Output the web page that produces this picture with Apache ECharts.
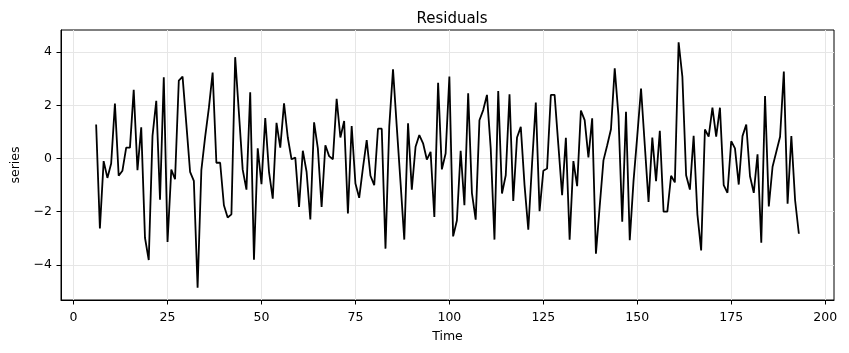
<!DOCTYPE html>
<html>
<head>
<meta charset="utf-8">
<title>Residuals</title>
<script src="https://cdn.jsdelivr.net/npm/echarts@6/dist/echarts.min.js"></script>
<style>
  html, body { margin: 0; padding: 0; background: #fff; }
  #chart { width: 849px; height: 353px; }
</style>
</head>
<body>
<div id="chart"></div>
<script>
  // residuals, one per time step starting at t = 6
  const startTime = 6;
  const residuals = [
    1.28, -2.63, -0.10, -0.73, -0.19, 2.07, -0.65, -0.46, 0.41, 0.41,
    2.58, -0.44, 1.17, -2.98, -3.82, 0.85, 2.17, -1.55, 3.05, -3.14,
    -0.42, -0.78, 2.93, 3.08, 1.30, -0.50, -0.84, -4.86, -0.44, 0.80,
    1.90, 3.23, -0.16, -0.16, -1.76, -2.22, -2.10, 3.81, 1.70, -0.42,
    -1.17, 2.49, -3.81, 0.38, -0.97, 1.52, -0.50, -1.51, 1.34, 0.41,
    2.07, 0.79, -0.03, 0.03, -1.82, 0.29, -0.50, -2.29, 1.36, 0.38,
    -1.82, 0.50, 0.09, -0.03, 2.24, 0.79, 1.41, -2.07, 1.22, -0.94,
    -1.48, -0.35, 0.69, -0.65, -1.00, 1.12, 1.12, -3.39, 1.20, 3.35,
    1.20, -0.90, -3.05, 1.32, -1.17, 0.44, 0.88, 0.57, -0.04, 0.25,
    -2.20, 2.85, -0.41, 0.19, 3.08, -2.93, -2.33, 0.29, -1.76, 2.45,
    -1.30, -2.30, 1.44, 1.82, 2.39, 0.38, -3.05, 2.54, -1.32, -0.63,
    2.41, -1.60, 0.79, 1.19, -1.00, -2.68, -0.20, 2.10, -1.98, -0.46,
    -0.38, 2.39, 2.39, 0.50, -1.38, 0.78, -3.05, -0.10, -1.04, 1.80,
    1.44, 0.04, 1.51, -3.58, -1.80, -0.07, 0.50, 1.10, 3.39, 1.60,
    -2.38, 1.76, -3.07, -0.85, 0.85, 2.63, 0.50, -1.63, 0.79, -0.85,
    1.04, -2.00, -2.00, -0.65, -0.90, 4.37, 3.08, -0.63, -1.17, 0.85,
    -2.10, -3.46, 1.09, 0.82, 1.91, 0.82, 1.91, -1.00, -1.29, 0.65,
    0.38, -0.98, 0.84, 1.28, -0.67, -1.29, 0.16, -3.17, 2.35, -1.80,
    -0.31, 0.25, 0.82, 3.27, -1.70, 0.84, -1.57, -2.83
  ];
  const xTicks = [0, 25, 50, 75, 100, 125, 150, 175, 200];
  const yTicks = [-4, -2, 0, 2, 4];

  const points = residuals.map(function (v, i) { return [startTime + i, v]; });

  // matplotlib style 5% margins around the data
  const xFirst = startTime;
  const xLast = startTime + residuals.length - 1;
  const xPad = (xLast - xFirst) * 0.05;
  const yLo = Math.min.apply(null, residuals);
  const yHi = Math.max.apply(null, residuals);
  const yPad = (yHi - yLo) * 0.05;

  const font = 'DejaVu Sans';
  const gridColor = '#e6e6e6';

  const chart = echarts.init(document.getElementById('chart'), null, { renderer: 'canvas' });
  const option = {
    animation: false,
    backgroundColor: '#fff',
    title: {
      text: 'Residuals',
      left: 447,
      textAlign: 'center',
      top: 7,
      textStyle: { fontFamily: font, fontSize: 15, fontWeight: 'normal', color: '#000' }
    },
    grid: {
      left: 61, right: 15, top: 30, bottom: 53,
      show: true, borderColor: '#000', borderWidth: 1, backgroundColor: 'transparent'
    },
    xAxis: {
      type: 'value',
      min: xFirst - xPad,
      max: xLast + xPad,
      name: 'Time',
      nameLocation: 'middle',
      nameGap: 30,
      nameTextStyle: { fontFamily: font, fontSize: 12.5, color: '#000' },
      axisLine: { show: true, onZero: false, lineStyle: { color: '#000', width: 1 } },
      axisTick: { show: true, length: 4.5, customValues: xTicks, lineStyle: { color: '#000', width: 1 } },
      axisLabel: { customValues: xTicks, margin: 11, fontFamily: font, fontSize: 12.5, color: '#000' },
      splitLine: { show: true, lineStyle: { color: gridColor, width: 1 } }
    },
    yAxis: {
      type: 'value',
      min: yLo - yPad,
      max: yHi + yPad,
      name: 'series',
      nameLocation: 'middle',
      nameGap: 33,
      nameTextStyle: { fontFamily: font, fontSize: 12.5, color: '#000' },
      axisLine: { show: true, onZero: false, lineStyle: { color: '#000', width: 1 } },
      axisTick: { show: true, length: 4.5, customValues: yTicks, lineStyle: { color: '#000', width: 1 } },
      axisLabel: {
        customValues: yTicks, margin: 9, fontFamily: font, fontSize: 12.5, color: '#000',
        formatter: function (v) { return v < 0 ? '\u2212' + Math.abs(v) : String(v); }
      },
      splitLine: { show: true, lineStyle: { color: gridColor, width: 1 } }
    },
    series: [
      {
        name: 'residuals',
        type: 'line',
        data: points,
        showSymbol: false,
        lineStyle: { color: '#000', width: 1.8 },
        itemStyle: { color: '#000' }
      }
    ]
  };
  chart.setOption(option);
</script>
</body>
</html>
